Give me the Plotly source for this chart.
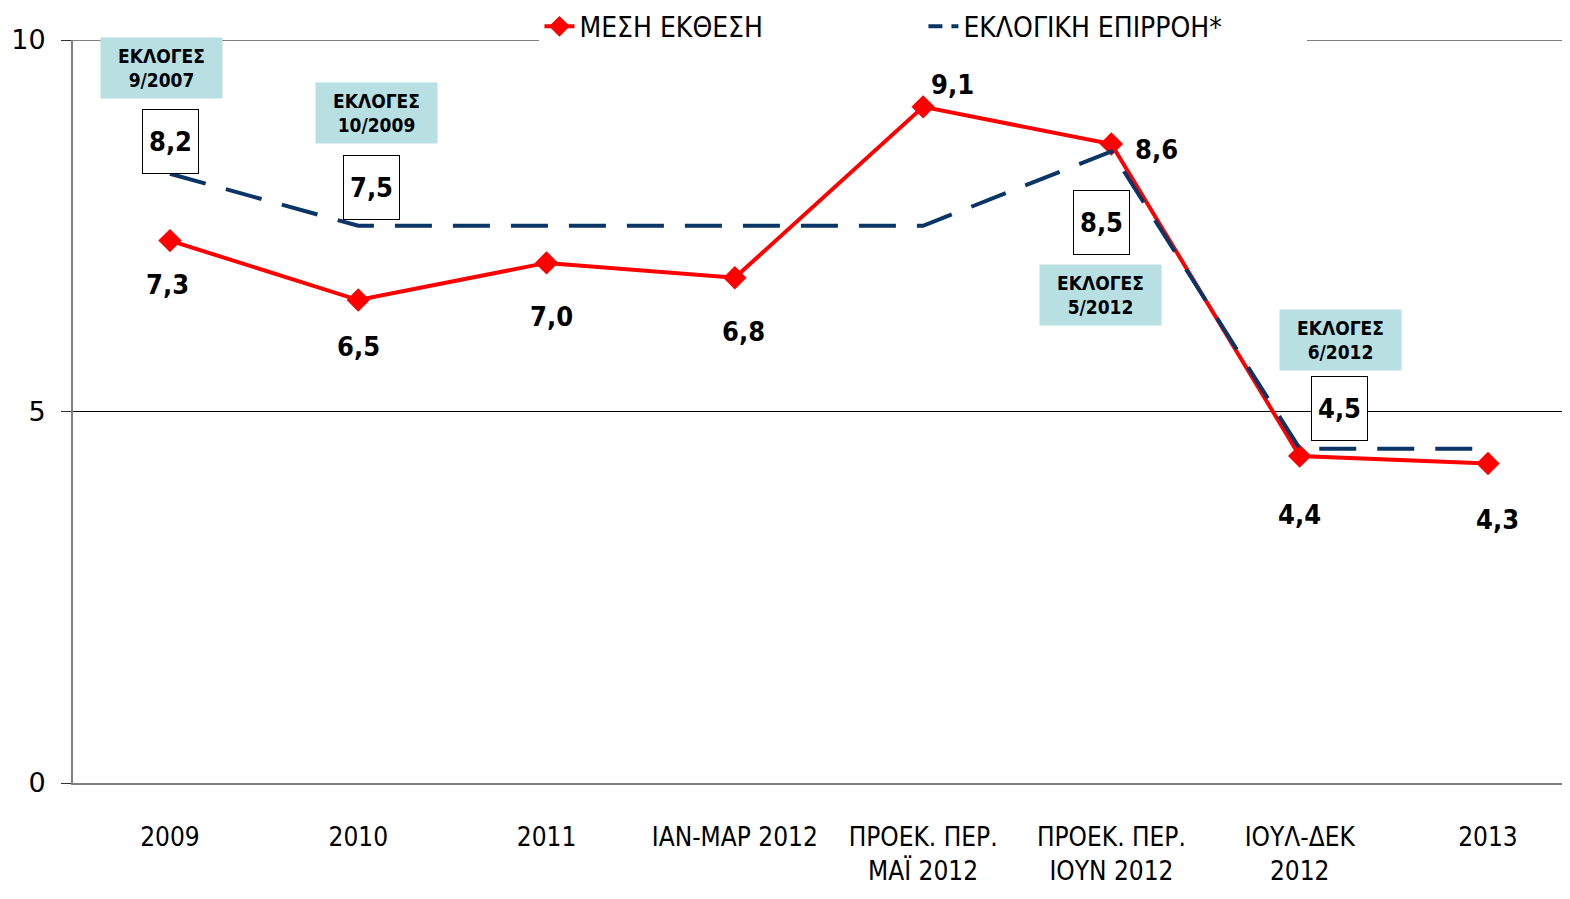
import plotly.graph_objects as go

categories = ['2009', '2010', '2011', 'ΙΑΝ-ΜΑΡ 2012', 'ΠΡΟΕΚ. ΠΕΡ.<br>ΜΑΪ 2012',
              'ΠΡΟΕΚ. ΠΕΡ.<br>ΙΟΥΝ 2012', 'ΙΟΥΛ-ΔΕΚ<br>2012', '2013']
mesi_ekthesi = [7.3, 6.5, 7.0, 6.8, 9.1, 8.6, 4.4, 4.3]
eklogiki_epirroi = [8.2, 7.5, 7.5, 7.5, 7.5, 8.5, 4.5, 4.5]

# elections shown over the dashed series: (index, text)
ekloges = [(0, 'ΕΚΛΟΓΕΣ<br>9/2007'), (1, 'ΕΚΛΟΓΕΣ<br>10/2009'),
           (5, 'ΕΚΛΟΓΕΣ<br>5/2012'), (6, 'ΕΚΛΟΓΕΣ<br>6/2012')]

COND = 'DejaVu Sans Condensed, DejaVu Sans, sans-serif'
RED = '#ff0000'
BLUE = '#0a3566'

x = list(range(len(categories)))

fig = go.Figure()
fig.add_trace(go.Scatter(
    x=x, y=mesi_ekthesi, name='ΜΕΣΗ ΕΚΘΕΣΗ', mode='lines+markers',
    line=dict(color=RED, width=4),
    marker=dict(symbol='diamond', size=18, color=RED)))
fig.add_trace(go.Scatter(
    x=x, y=eklogiki_epirroi, name='ΕΚΛΟΓΙΚΗ ΕΠΙΡΡΟΗ*', mode='lines',
    line=dict(color=BLUE, width=4, dash='37px,21px'), showlegend=False))
# legend entry only, shorter dashes so two of them fit in the key
fig.add_trace(go.Scatter(
    x=[None], y=[None], name='ΕΚΛΟΓΙΚΗ ΕΠΙΡΡΟΗ*', mode='lines',
    line=dict(color=BLUE, width=4, dash='14px,9px')))

annotations = []
# labels for the red series (x shift, y shift in px)
red_shift = [(-2, -44), (0, -46), (5, -54), (9, -54), (29, 22), (45, -5), (0, -58), (10, -56)]
for i, v in enumerate(mesi_ekthesi):
    dx, dy = red_shift[i]
    annotations.append(dict(
        x=i, y=v, text=f'{v:.1f}'.replace('.', ','), showarrow=False,
        xshift=dx, yshift=dy,
        font=dict(family=COND, size=27, color='black', weight='bold')))

# boxed labels for the dashed series
blue_shift = {0: (1, 32), 1: (13, 38), 5: (-10, -71), 6: (40, 40)}
for i, (dx, dy) in blue_shift.items():
    v = eklogiki_epirroi[i]
    annotations.append(dict(
        x=i, y=v, text=f'{v:.1f}'.replace('.', ','), showarrow=False,
        xshift=dx, yshift=dy, width=55, height=63,
        bgcolor='white', bordercolor='black', borderwidth=1, borderpad=0,
        font=dict(family=COND, size=27, color='black', weight='bold')))

# election boxes
elect_shift = {0: (-8, 106), 1: (18, 113), 5: (-11, -144), 6: (41, 109)}
for i, txt in ekloges:
    dx, dy = elect_shift[i]
    annotations.append(dict(
        x=i, y=eklogiki_epirroi[i], text=txt, showarrow=False,
        xshift=dx, yshift=dy, width=121, height=60,
        bgcolor='#b8e0e3', borderpad=0,
        font=dict(family=COND, size=19, color='black', weight='bold')))

fig.update_layout(
    width=1562, height=891,
    margin=dict(l=65, r=2, t=32, b=116, autoexpand=False),
    paper_bgcolor='white', plot_bgcolor='white',
    font=dict(family=COND, color='black'),
    showlegend=True,
    legend=dict(orientation='h', x=0.312, xanchor='left', y=1.018, yanchor='middle',
                bgcolor='white', font=dict(family=COND, size=28, color='black'),
                entrywidth=339, entrywidthmode='pixels', itemwidth=30),
    annotations=annotations,
    shapes=[
        dict(type='line', xref='paper', x0=0, x1=1, yref='y', y0=10, y1=10,
             line=dict(color='#808080', width=2), layer='below'),
        dict(type='line', xref='paper', x0=0, x1=1, yref='y', y0=5, y1=5,
             line=dict(color='black', width=1), layer='below'),
    ],
)

fig.update_xaxes(
    tickmode='array', tickvals=x, ticktext=categories,
    range=[-0.515, 7.425], showgrid=False, zeroline=False,
    showline=True, linecolor='#808080', linewidth=2, ticks='',
    tickfont=dict(family=COND, size=26, color='black'), ticklabelstandoff=30)
fig.update_yaxes(
    range=[0, 10], tickvals=[0, 5, 10], showgrid=False, zeroline=False,
    showline=True, linecolor='#808080', linewidth=2,
    ticks='outside', ticklen=10, tickcolor='#333333', tickwidth=1,
    ticklabelstandoff=10,
    tickfont=dict(family='DejaVu Sans, sans-serif', size=27, color='black'))

fig.write_html('out.html')
